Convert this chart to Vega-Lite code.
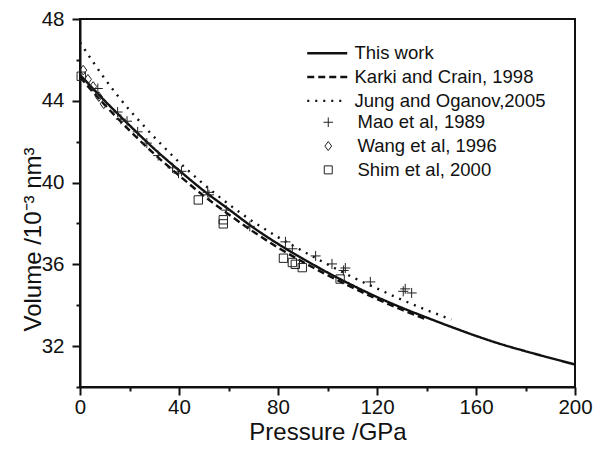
{
  "$schema": "https://vega.github.io/schema/vega-lite/v6.json",
  "width": 495,
  "height": 368,
  "autosize": {"type": "none"},
  "padding": {"left": 80, "top": 19, "right": 18, "bottom": 69},
  "background": "white",
  "config": {
    "view": {"stroke": "#111", "strokeWidth": 2},
    "font": "Liberation Sans",
    "axis": {
      "grid": false,
      "domainColor": "#111",
      "domainWidth": 2,
      "tickColor": "#111",
      "tickWidth": 2,
      "labelColor": "#111",
      "titleColor": "#111",
      "labelFont": "Liberation Sans",
      "titleFont": "Liberation Sans",
      "labelFontSize": 20.5,
      "titleFontSize": 24,
      "titleFontWeight": "normal"
    },
    "legend": {
      "labelFont": "Liberation Sans",
      "labelFontSize": 18.5,
      "labelColor": "#111",
      "labelLimit": 400,
      "orient": "none",
      "padding": 0
    }
  },
  "datasets": {
    "curves": [
      {"series": "This work", "P": 0, "V": 45.27},
      {"series": "This work", "P": 10, "V": 44.0},
      {"series": "This work", "P": 20, "V": 42.8},
      {"series": "This work", "P": 30, "V": 41.65},
      {"series": "This work", "P": 40, "V": 40.6},
      {"series": "This work", "P": 50, "V": 39.6},
      {"series": "This work", "P": 60, "V": 38.7},
      {"series": "This work", "P": 70, "V": 37.8},
      {"series": "This work", "P": 80, "V": 37.0},
      {"series": "This work", "P": 90, "V": 36.28},
      {"series": "This work", "P": 100, "V": 35.6},
      {"series": "This work", "P": 110, "V": 34.98},
      {"series": "This work", "P": 120, "V": 34.4},
      {"series": "This work", "P": 130, "V": 33.88},
      {"series": "This work", "P": 140, "V": 33.4},
      {"series": "This work", "P": 150, "V": 32.94},
      {"series": "This work", "P": 160, "V": 32.5},
      {"series": "This work", "P": 170, "V": 32.1},
      {"series": "This work", "P": 180, "V": 31.75},
      {"series": "This work", "P": 190, "V": 31.42},
      {"series": "This work", "P": 200, "V": 31.1},
      {"series": "Karki and Crain, 1998", "P": 0, "V": 45.15},
      {"series": "Karki and Crain, 1998", "P": 10, "V": 43.8},
      {"series": "Karki and Crain, 1998", "P": 20, "V": 42.55},
      {"series": "Karki and Crain, 1998", "P": 30, "V": 41.4},
      {"series": "Karki and Crain, 1998", "P": 40, "V": 40.35},
      {"series": "Karki and Crain, 1998", "P": 50, "V": 39.35},
      {"series": "Karki and Crain, 1998", "P": 60, "V": 38.45},
      {"series": "Karki and Crain, 1998", "P": 70, "V": 37.6},
      {"series": "Karki and Crain, 1998", "P": 80, "V": 36.82},
      {"series": "Karki and Crain, 1998", "P": 90, "V": 36.12},
      {"series": "Karki and Crain, 1998", "P": 100, "V": 35.47},
      {"series": "Karki and Crain, 1998", "P": 110, "V": 34.87},
      {"series": "Karki and Crain, 1998", "P": 120, "V": 34.3},
      {"series": "Karki and Crain, 1998", "P": 130, "V": 33.78},
      {"series": "Karki and Crain, 1998", "P": 140, "V": 33.3},
      {"series": "Jung and Oganov,2005", "P": 0, "V": 46.85},
      {"series": "Jung and Oganov,2005", "P": 5, "V": 45.95},
      {"series": "Jung and Oganov,2005", "P": 10, "V": 45.08},
      {"series": "Jung and Oganov,2005", "P": 15, "V": 44.28},
      {"series": "Jung and Oganov,2005", "P": 20, "V": 43.55},
      {"series": "Jung and Oganov,2005", "P": 25, "V": 42.88},
      {"series": "Jung and Oganov,2005", "P": 30, "V": 42.22},
      {"series": "Jung and Oganov,2005", "P": 35, "V": 41.6},
      {"series": "Jung and Oganov,2005", "P": 40, "V": 41.0},
      {"series": "Jung and Oganov,2005", "P": 45, "V": 40.45},
      {"series": "Jung and Oganov,2005", "P": 50, "V": 39.92},
      {"series": "Jung and Oganov,2005", "P": 55, "V": 39.42},
      {"series": "Jung and Oganov,2005", "P": 60, "V": 38.95},
      {"series": "Jung and Oganov,2005", "P": 65, "V": 38.5},
      {"series": "Jung and Oganov,2005", "P": 70, "V": 38.08},
      {"series": "Jung and Oganov,2005", "P": 75, "V": 37.7},
      {"series": "Jung and Oganov,2005", "P": 80, "V": 37.33},
      {"series": "Jung and Oganov,2005", "P": 90, "V": 36.65},
      {"series": "Jung and Oganov,2005", "P": 100, "V": 36.0},
      {"series": "Jung and Oganov,2005", "P": 110, "V": 35.38},
      {"series": "Jung and Oganov,2005", "P": 120, "V": 34.82},
      {"series": "Jung and Oganov,2005", "P": 130, "V": 34.27},
      {"series": "Jung and Oganov,2005", "P": 140, "V": 33.77},
      {"series": "Jung and Oganov,2005", "P": 150, "V": 33.3}
    ],
    "points": [
      {"series": "Mao et al, 1989", "P": 7.2, "V": 44.6},
      {"series": "Mao et al, 1989", "P": 15.2, "V": 43.45},
      {"series": "Mao et al, 1989", "P": 16.5, "V": 43.1},
      {"series": "Mao et al, 1989", "P": 19, "V": 43.0},
      {"series": "Mao et al, 1989", "P": 23.3, "V": 42.48},
      {"series": "Mao et al, 1989", "P": 27, "V": 41.93},
      {"series": "Mao et al, 1989", "P": 31.6, "V": 41.32},
      {"series": "Mao et al, 1989", "P": 37.4, "V": 40.72},
      {"series": "Mao et al, 1989", "P": 39.8, "V": 40.46},
      {"series": "Mao et al, 1989", "P": 41, "V": 40.55},
      {"series": "Mao et al, 1989", "P": 51.6, "V": 39.52},
      {"series": "Mao et al, 1989", "P": 52.1, "V": 39.4},
      {"series": "Mao et al, 1989", "P": 59.1, "V": 38.65},
      {"series": "Mao et al, 1989", "P": 68.6, "V": 37.86},
      {"series": "Mao et al, 1989", "P": 83, "V": 37.1},
      {"series": "Mao et al, 1989", "P": 85.8, "V": 36.76},
      {"series": "Mao et al, 1989", "P": 95.2, "V": 36.41},
      {"series": "Mao et al, 1989", "P": 101.8, "V": 36.02},
      {"series": "Mao et al, 1989", "P": 107.2, "V": 35.82},
      {"series": "Mao et al, 1989", "P": 106.5, "V": 35.7},
      {"series": "Mao et al, 1989", "P": 117.3, "V": 35.14},
      {"series": "Mao et al, 1989", "P": 130.6, "V": 34.68},
      {"series": "Mao et al, 1989", "P": 131.4, "V": 34.8},
      {"series": "Mao et al, 1989", "P": 134, "V": 34.6},
      {"series": "Wang et al, 1996", "P": 1.3, "V": 45.5},
      {"series": "Wang et al, 1996", "P": 3.2, "V": 45.05},
      {"series": "Wang et al, 1996", "P": 5.3, "V": 44.7},
      {"series": "Wang et al, 1996", "P": 7.6, "V": 44.2},
      {"series": "Wang et al, 1996", "P": 9.6, "V": 43.85},
      {"series": "Shim et al, 2000", "P": 0.5, "V": 45.2},
      {"series": "Shim et al, 2000", "P": 47.8, "V": 39.15},
      {"series": "Shim et al, 2000", "P": 57.9, "V": 38.18},
      {"series": "Shim et al, 2000", "P": 57.9, "V": 37.98},
      {"series": "Shim et al, 2000", "P": 82.2, "V": 36.3},
      {"series": "Shim et al, 2000", "P": 85.8, "V": 36.09},
      {"series": "Shim et al, 2000", "P": 87, "V": 36.0},
      {"series": "Shim et al, 2000", "P": 89.8, "V": 35.84},
      {"series": "Shim et al, 2000", "P": 105.1, "V": 35.28}
    ]
  },
  "encoding": {
    "x": {
      "field": "P",
      "type": "quantitative",
      "scale": {"domain": [0, 200], "nice": false, "zero": false},
      "axis": {
        "title": "Pressure /GPa",
        "values": [0, 20, 40, 60, 80, 100, 120, 140, 160, 180, 200],
        "labelExpr": "datum.value % 40 === 0 ? datum.label : ''",
        "tickSize": {"condition": {"test": "datum.value % 40 === 0", "value": 8}, "value": 4},
        "labelPadding": 2,
        "titlePadding": 3,
        "labelFlush": false
      }
    },
    "y": {
      "field": "V",
      "type": "quantitative",
      "scale": {"domain": [30, 48], "nice": false, "zero": false},
      "axis": {
        "title": "Volume /10⁻³ nm³",
        "values": [30, 32, 34, 36, 38, 40, 42, 44, 46, 48],
        "labelExpr": "datum.value % 4 === 0 ? datum.label : ''",
        "tickSize": {"condition": {"test": "datum.value % 4 === 0", "value": 8}, "value": 4},
        "labelPadding": 8,
        "titleX": -40,
        "titleY": 220,
        "titleBaseline": "alphabetic",
        "labelFlush": false
      }
    }
  },
  "layer": [
    {
      "data": {"name": "curves"},
      "mark": {"type": "line", "color": "#111", "strokeWidth": 2.4, "interpolate": "monotone", "clip": true},
      "encoding": {
        "strokeDash": {
          "field": "series",
          "type": "nominal",
          "scale": {
            "domain": ["This work", "Karki and Crain, 1998", "Jung and Oganov,2005"],
            "range": [[1, 0], [7, 4], [2, 6]]
          },
          "legend": {
            "title": null,
            "legendX": 238,
            "legendY": 25,
            "symbolType": "M-4,0H4",
            "symbolSize": 100,
            "symbolStrokeWidth": 2.4,
            "symbolStrokeColor": "#111",
            "labelOffset": 18,
            "rowPadding": 4.8
          }
        }
      }
    },
    {
      "data": {"name": "points"},
      "mark": {"type": "point", "filled": false, "color": "#222", "strokeWidth": 1, "opacity": 1, "size": 70},
      "encoding": {
        "shape": {
          "field": "series",
          "type": "nominal",
          "scale": {
            "domain": ["Mao et al, 1989", "Wang et al, 1996", "Shim et al, 2000"],
            "range": ["M-1.2,0H1.2M0,-1.2V1.2", "M0,-1.15L0.85,0L0,1.15L-0.85,0Z", "square"]
          },
          "legend": {
            "title": null,
            "legendX": 239,
            "legendY": 94,
            "symbolSize": 64,
            "symbolStrokeWidth": 1,
            "symbolStrokeColor": "#222",
            "symbolFillColor": "transparent",
            "labelOffset": 20,
            "rowPadding": 4.8
          }
        }
      }
    }
  ]
}
